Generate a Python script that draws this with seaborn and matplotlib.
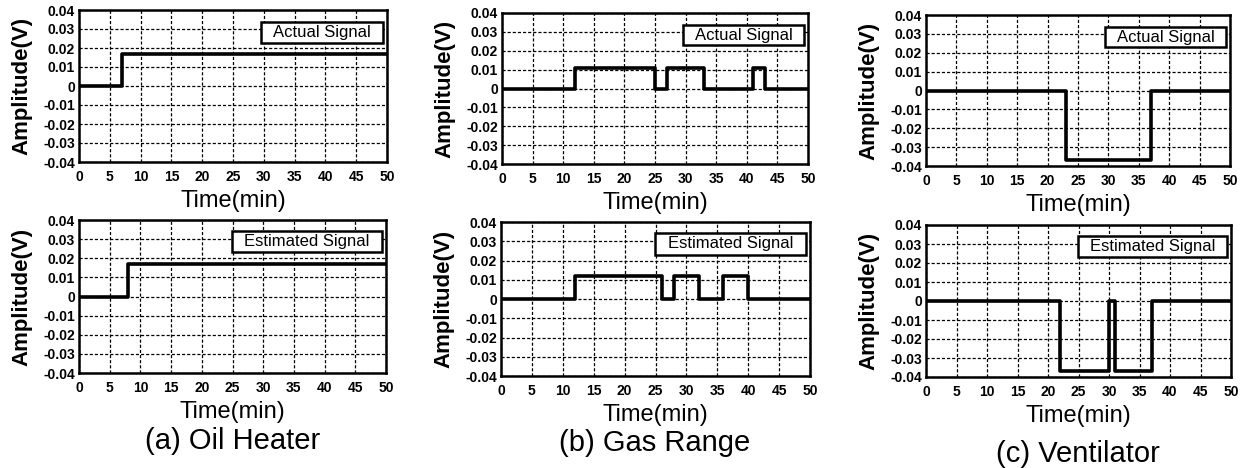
import matplotlib
matplotlib.use("Agg")
import matplotlib.pyplot as plt
import seaborn as sns
from matplotlib.patches import Rectangle

# ---------------- data (step signals: change times and levels) ----------------
oil_actual_t = [0, 7, 50]
oil_actual_v = [0.0, 0.017, 0.017]
oil_est_t = [0, 8, 50]
oil_est_v = [0.0, 0.017, 0.017]

gas_actual_t = [0, 12, 25, 27, 33, 41, 43, 50]
gas_actual_v = [0.0, 0.011, 0.0, 0.011, 0.0, 0.011, 0.0, 0.0]
gas_est_t = [0, 12, 26, 28, 32, 36, 40, 50]
gas_est_v = [0.0, 0.012, 0.0, 0.012, 0.0, 0.012, 0.0, 0.0]

vent_actual_t = [0, 23, 37, 50]
vent_actual_v = [0.0, -0.037, 0.0, 0.0]
vent_est_t = [0, 22, 30, 31, 37, 50]
vent_est_v = [0.0, -0.037, 0.0, -0.037, 0.0, 0.0]

x_ticks = [0, 5, 10, 15, 20, 25, 30, 35, 40, 45, 50]
y_ticks = [0.04, 0.03, 0.02, 0.01, 0.0, -0.01, -0.02, -0.03, -0.04]
y_tick_labels = ["0.04", "0.03", "0.02", "0.01", "0", "-0.01", "-0.02", "-0.03", "-0.04"]
panel_titles = ["(a) Oil Heater", "(b) Gas Range", "(c) Ventilator"]
box_labels = ["Actual Signal", "Estimated Signal"]

# ---------------- style ----------------
sns.set_theme(style="white")
plt.rcParams["font.family"] = ["Liberation Sans", "DejaVu Sans"]

W, H = 1251, 468
fig = plt.figure(figsize=(W / 100, H / 100), dpi=100)


def add_ax(l, r, t, b):
    return fig.add_axes([l / W, 1 - b / H, (r - l) / W, (b - t) / H])


top_boxes = [(79, 387, 10, 162), (502, 808, 13, 164), (926, 1230, 15, 166)]
bot_boxes = [(79, 386, 220, 373), (501, 810, 222, 376), (926, 1231, 225, 377)]
series = [
    [(oil_actual_t, oil_actual_v), (oil_est_t, oil_est_v)],
    [(gas_actual_t, gas_actual_v), (gas_est_t, gas_est_v)],
    [(vent_actual_t, vent_actual_v), (vent_est_t, vent_est_v)],
]
title_pos = [(233, 441), (655, 443), (1078, 454)]
# legend box extents in axes fractions (x0, x1, y0, y1)
box_ext = [(0.59, 0.988, 0.785, 0.92), (0.498, 0.988, 0.788, 0.93)]

for col in range(3):
    for row, rect in enumerate([top_boxes[col], bot_boxes[col]]):
        ax = add_ax(*rect)
        t, v = series[col][row]
        sns.lineplot(x=t, y=v, ax=ax, color="black", linewidth=2.6,
                     drawstyle="steps-post", legend=False)
        ax.set_xlim(0, 50)
        ax.set_ylim(-0.04, 0.04)
        ax.set_xticks(x_ticks)
        ax.set_xticklabels([str(x) for x in x_ticks], fontsize=10, fontweight="bold")
        ax.set_yticks(y_ticks)
        ax.set_yticklabels(y_tick_labels, fontsize=10, fontweight="bold")
        ax.tick_params(axis="both", length=0, colors="black")
        ax.tick_params(axis="x", pad=6)
        ax.tick_params(axis="y", pad=3)
        ax.grid(True, color="black", linestyle=(0, (2.5, 1.6)), linewidth=0.9)
        for s in ax.spines.values():
            s.set_visible(True)
            s.set_color("black")
            s.set_linewidth(1.8)
        hpx = rect[3] - rect[2]
        wpx = rect[1] - rect[0]
        ax.set_xlabel("Time(min)", fontsize=17, color="black")
        ax.xaxis.set_label_coords(0.5, -28 / hpx)
        ax.set_ylabel("Amplitude(V)", fontsize=16, fontweight="bold", color="black")
        ax.yaxis.set_label_coords(-47 / wpx, 0.5)
        x0, x1, y0, y1 = box_ext[row]
        ax.add_patch(Rectangle((x0, y0), x1 - x0, y1 - y0, transform=ax.transAxes,
                               facecolor="white", edgecolor="black", linewidth=1.8,
                               zorder=5))
        ax.text((x0 + x1) / 2, (y0 + y1) / 2, box_labels[row], transform=ax.transAxes,
                ha="center", va="center", fontsize=12, color="black", zorder=6)
    tx, ty = title_pos[col]
    fig.text(tx / W, 1 - ty / H, panel_titles[col], ha="center", va="center",
             fontsize=21, color="black")

fig.savefig("out.png", dpi=100, facecolor="white")
